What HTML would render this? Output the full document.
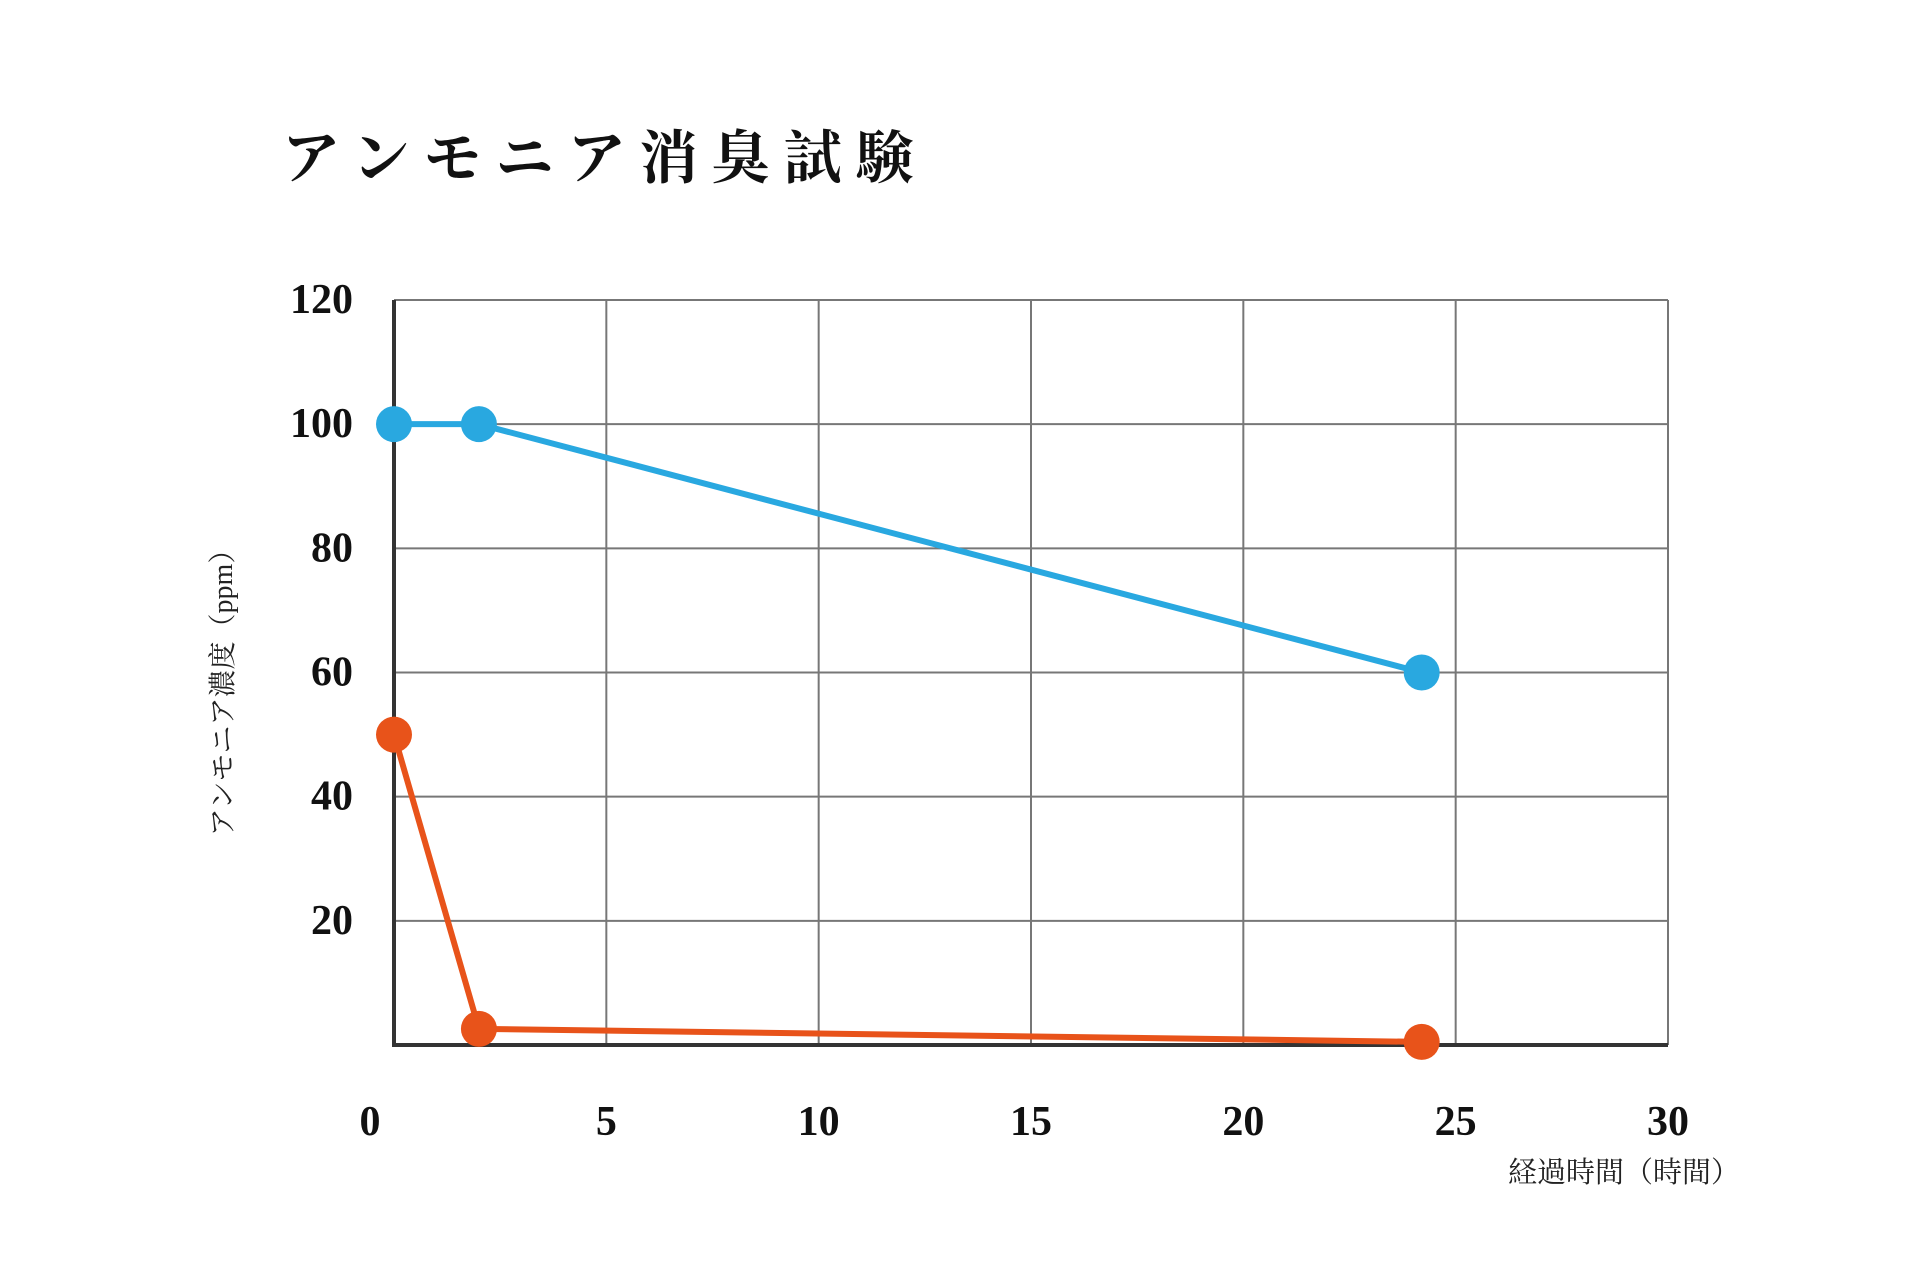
<!DOCTYPE html>
<html><head><meta charset="utf-8"><style>
html,body{margin:0;padding:0;background:#fff;}
svg{display:block;}
text{font-family:"Liberation Serif","Noto Serif CJK SC",serif;}
</style></head><body>
<svg id="chart" width="1920" height="1280" viewBox="0 0 1920 1280">
<text x="282" y="178" font-size="58" font-weight="bold" letter-spacing="14" fill="#111">アンモニア消臭試験</text>
<g id="grid"></g>
<g id="axes"></g>
<g id="series"></g>
<text transform="translate(232,686) rotate(-90)" text-anchor="middle" font-size="28" fill="#222">アンモニア濃度（ppm）</text>
<text x="1740" y="1182" text-anchor="end" font-size="29" fill="#222">経過時間（時間）</text>
</svg>
<script>
const xTicks=[0,5,10,15,20,25,30];
const yTicks=[20,40,60,80,100,120];
const blueX=[0,2,24.2];
const blueY=[100,100,60];
const orangeX=[0,2,24.2];
const orangeY=[50,2.6,0.5];
const L=394,R=1668,T=300,B=1045,XMAX=30,YMAX=120;
const sx=v=>L+(R-L)*v/XMAX, sy=v=>B-(B-T)*v/YMAX;
const NS="http://www.w3.org/2000/svg";
function mk(tag,parent,attrs){const e=document.createElementNS(NS,tag);for(const k in attrs)e.setAttribute(k,attrs[k]);parent.appendChild(e);return e;}
const grid=document.getElementById('grid'),axes=document.getElementById('axes'),series=document.getElementById('series');
xTicks.forEach(t=>{
  if(t>0){const l=mk('line',grid,{x1:sx(t),x2:sx(t),y1:T,y2:B,stroke:'#777','stroke-width':2});
  
  }
  const tx=mk('text',axes,{x:sx(t)+(t===0?-24:0),y:1135,'text-anchor':'middle','font-size':42,'font-weight':'bold',fill:'#111'});
  tx.textContent=t;
  
  
});
yTicks.forEach(t=>{
  const l=mk('line',grid,{x1:L,x2:R,y1:sy(t),y2:sy(t),stroke:'#777','stroke-width':2});
  
  
  const tx=mk('text',axes,{x:353,y:sy(t)+13,'text-anchor':'end','font-size':42,'font-weight':'bold',fill:'#111'});
  tx.textContent=t;
  
  
});
const ya=mk('line',axes,{x1:L,x2:L,y1:T,y2:B+2,stroke:'#333','stroke-width':4});


const xa=mk('line',axes,{x1:L-2,x2:R,y1:B,y2:B,stroke:'#333','stroke-width':4});


function drawSeries(xs,ys,color,name){
  const pl=mk('polyline',series,{points:xs.map((x,i)=>sx(x)+','+sy(ys[i])).join(' '),fill:'none',stroke:color,'stroke-width':6,'stroke-linejoin':'round'});
  
  
  xs.forEach((x,i)=>{
    const c=mk('circle',series,{cx:sx(x),cy:sy(ys[i]),r:18,fill:color});
    
    
  });
}
drawSeries(blueX,blueY,'#29a8e0','blue-series');
drawSeries(orangeX,orangeY,'#e8531a','orange-series');
</script>
</body></html>
